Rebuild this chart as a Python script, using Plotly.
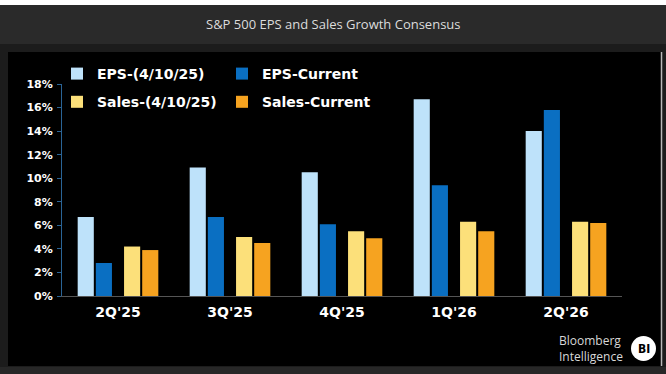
import plotly.graph_objects as go

# ---- data ----
quarters = ["2Q'25", "3Q'25", "4Q'25", "1Q'26", "2Q'26"]
eps_prior = [6.7, 10.9, 10.5, 16.7, 14.0]
eps_current = [2.8, 6.7, 6.1, 9.4, 15.8]
sales_prior = [4.2, 5.0, 5.5, 6.3, 6.3]
sales_current = [3.9, 4.5, 4.9, 5.5, 6.2]
y_ticks = [0, 2, 4, 6, 8, 10, 12, 14, 16, 18]
y_tick_text = [f"{v}%" for v in y_ticks]

W, H = 666, 374
L, R, T, B = 62, 44, 84, 78
PW, PH = W - L - R, H - T - B


def px(x):
    return (x - L) / PW


def py(y):
    return (H - B - y) / PH


bar_w = 0.144
series = [
    ("EPS-(4/10/25)", eps_prior, "#BEE2FA", -0.36, "legend"),
    ("EPS-Current", eps_current, "#0A6FC2", -0.198, "legend2"),
    ("Sales-(4/10/25)", sales_prior, "#FCE07A", 0.054, "legend"),
    ("Sales-Current", sales_current, "#F6A320", 0.216, "legend2"),
]

fig = go.Figure()
for i, (name, vals, col, off, lg) in enumerate(series):
    fig.add_trace(go.Bar(
        x=quarters, y=vals, name=name, width=bar_w, offset=off,
        marker=dict(color=col, line=dict(width=0)),
        legend=lg, legendgroup=name, hoverinfo="skip",
    ))

shapes = [
    # title band
    dict(type="rect", xref="paper", yref="paper", x0=px(0), x1=px(W), y0=py(5), y1=py(44),
         fillcolor="#2a2a2a", line_width=0, layer="below"),
    dict(type="rect", xref="paper", yref="paper", x0=px(0), x1=px(W), y0=py(0), y1=py(5),
         fillcolor="#ffffff", line_width=0, layer="below"),
    dict(type="rect", xref="paper", yref="paper", x0=px(0), x1=px(W), y0=py(44), y1=py(367),
         fillcolor="#1c1c1c", line_width=0, layer="below"),
    dict(type="rect", xref="paper", yref="paper", x0=px(8), x1=px(661), y0=py(52), y1=py(366),
         fillcolor="#000000", line_width=0, layer="below"),
    dict(type="line", xref="paper", yref="paper", x0=px(661.5), x1=px(661.5), y0=py(52), y1=py(366),
         line=dict(color="#b8b8b8", width=1.5), layer="below"),
    dict(type="rect", xref="paper", yref="paper", x0=px(0), x1=px(W), y0=py(367), y1=py(H),
         fillcolor="#272727", line_width=0, layer="below"),
    # BI circle
    dict(type="circle", xref="paper", yref="paper", x0=px(631), x1=px(656), y0=py(336), y1=py(361),
         fillcolor="#ffffff", line_width=0, layer="above"),
]

annotations = [
    dict(text="S&P 500 EPS and Sales Growth Consensus", xref="paper", yref="paper",
         x=px(333), y=py(24), xanchor="center", yanchor="middle", showarrow=False,
         font=dict(family="Open Sans", size=13, color="#dcdcdc")),
    dict(text="Bloomberg<br>Intelligence", xref="paper", yref="paper",
         x=px(557), y=py(348), xanchor="left", yanchor="middle", showarrow=False, align="left",
         font=dict(family="Open Sans", size=12, color="#d8d8d8")),
    dict(text="<b>BI</b>", xref="paper", yref="paper",
         x=px(643.5), y=py(348.5), xanchor="center", yanchor="middle", showarrow=False,
         font=dict(family="DejaVu Sans Condensed", size=12, color="#000000")),
]

legend_font = dict(family="DejaVu Sans", size=14, color="#ffffff", weight="bold")
fig.update_layout(
    width=W, height=H,
    margin=dict(l=L, r=R, t=T, b=B, pad=0),
    paper_bgcolor="#000000", plot_bgcolor="rgba(0,0,0,0)",
    barmode="overlay",
    showlegend=True,
    legend=dict(x=px(57), y=py(58), xanchor="left", yanchor="top", orientation="v",
                font=legend_font, bgcolor="rgba(0,0,0,0)", traceorder="grouped",
                tracegroupgap=7, itemclick=False),
    legend2=dict(x=px(222), y=py(58), xanchor="left", yanchor="top", orientation="v",
                 font=legend_font, bgcolor="rgba(0,0,0,0)", traceorder="grouped",
                 tracegroupgap=7, itemclick=False),
    xaxis=dict(type="category", range=[-0.5, 4.5], showgrid=False, zeroline=False,
               showline=True, linecolor="#555555", linewidth=1, ticks="",
               tickfont=dict(family="DejaVu Sans", size=14, color="#ffffff", weight="bold"),
               ticklabelstandoff=3),
    yaxis=dict(range=[0, 18], tickvals=y_ticks, ticktext=y_tick_text, showgrid=False,
               zeroline=False, showline=True, linecolor="#2a6496", linewidth=1,
               ticks="outside", ticklen=4, tickcolor="#2a6496",
               tickfont=dict(family="DejaVu Sans", size=11, color="#ffffff", weight="bold"),
               ticklabelstandoff=2),
    shapes=shapes,
    annotations=annotations,
)

fig.write_html("out.html", config={"displayModeBar": False},
               post_script="document.body.style.margin='0';document.body.style.overflow='hidden';")
